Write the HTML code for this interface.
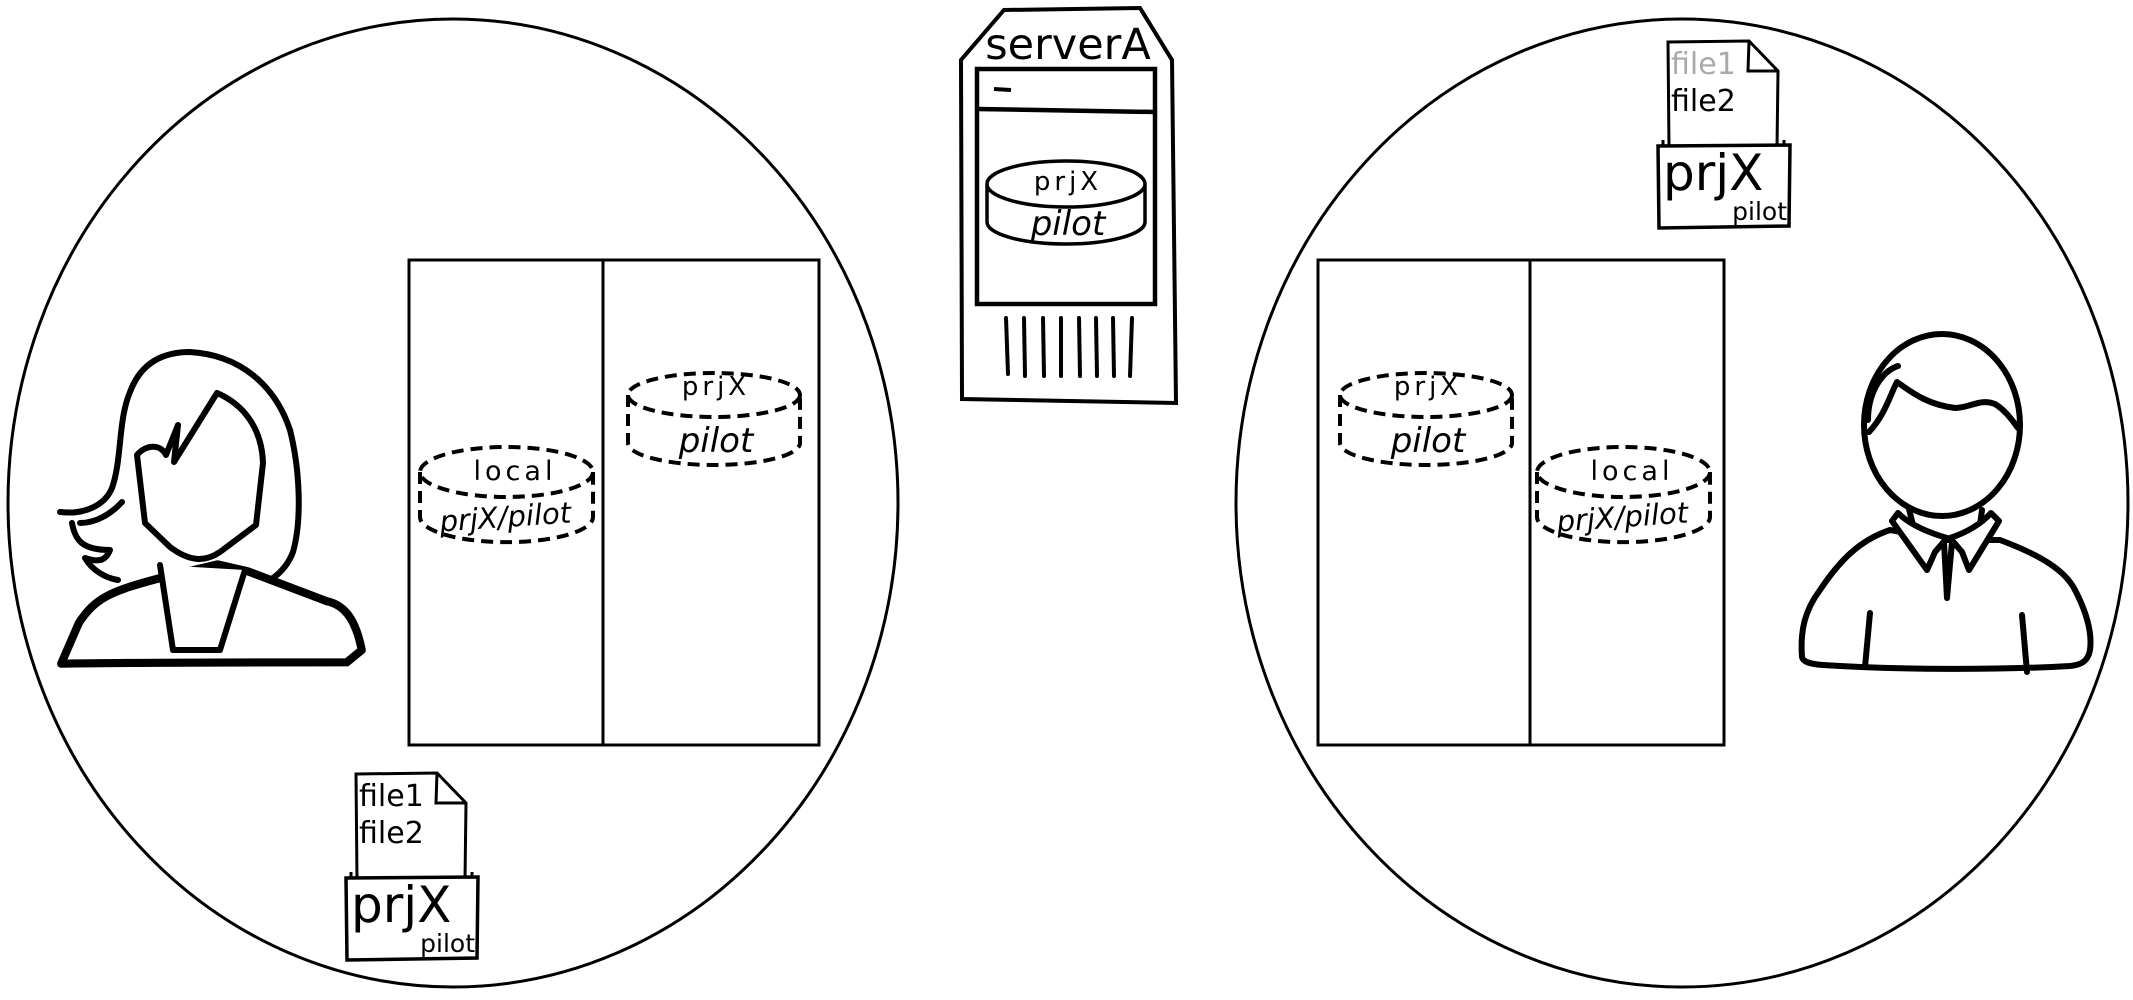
<!DOCTYPE html>
<html><head><meta charset="utf-8"><style>
html,body{margin:0;padding:0;background:#fff;}
svg{display:block;}
text{font-family:"DejaVu Sans","Liberation Sans",sans-serif;fill:#000;}
</style></head><body>
<svg width="2133" height="1000" viewBox="0 0 2133 1000" xmlns="http://www.w3.org/2000/svg">
<defs>
<g id="cylLocal">
  <path d="M0,25 L0,70 A86,25 0 0 0 173,70 L173,25" fill="none" stroke="#000" stroke-width="4" stroke-dasharray="12,7"/>
  <ellipse cx="86.5" cy="25" rx="86.5" ry="25" fill="none" stroke="#000" stroke-width="4" stroke-dasharray="12,7"/>
  <text x="95" y="33" font-size="27" text-anchor="middle" letter-spacing="4">local</text>
  <text x="86" y="80" font-size="29" text-anchor="middle" transform="rotate(-4 86 80)" font-style="italic">prjX/pilot</text>
</g>
<g id="cylPrj">
  <path d="M0,22 L0,70 A86,22 0 0 0 172,70 L172,22" fill="none" stroke="#000" stroke-width="4" stroke-dasharray="12,7"/>
  <ellipse cx="86" cy="22" rx="86" ry="22" fill="none" stroke="#000" stroke-width="4" stroke-dasharray="12,7"/>
  <text x="88" y="22" font-size="26" text-anchor="middle" letter-spacing="4">prjX</text>
  <text x="88" y="79" font-size="34" text-anchor="middle" font-style="italic">pilot</text>
</g>
<g id="folder">
  <path d="M351,872 L351,893 M472,872 L472,893" stroke="#000" stroke-width="3" fill="none"/>
  <path d="M356,774 L437,773 L466,803 L465,880 L357,880 Z" fill="#fff" stroke="#000" stroke-width="3"/>
  <path d="M437,773 L436,803 L466,803" fill="none" stroke="#000" stroke-width="3"/>
  <path d="M346,878 L478,877 L477,958 L347,960 Z" fill="#fff" stroke="#000" stroke-width="3.5"/>
</g>
</defs>

<ellipse cx="453" cy="503" rx="445" ry="484" fill="none" stroke="#000" stroke-width="3"/>
<ellipse cx="1682" cy="503" rx="446" ry="484" fill="none" stroke="#000" stroke-width="3"/>

<!-- left panel -->
<rect x="409" y="260" width="410" height="485" fill="none" stroke="#000" stroke-width="3"/>
<line x1="603" y1="260" x2="603" y2="745" stroke="#000" stroke-width="3"/>
<use href="#cylLocal" x="420" y="447"/>
<use href="#cylPrj" x="628" y="373"/>

<!-- right panel -->
<rect x="1318" y="260" width="406" height="485" fill="none" stroke="#000" stroke-width="3"/>
<line x1="1530" y1="260" x2="1530" y2="745" stroke="#000" stroke-width="3"/>
<use href="#cylPrj" x="1340" y="373"/>
<use href="#cylLocal" x="1537" y="447"/>

<!-- server -->
<path d="M1004,10 L1140,8 L1172,60 L1176,403 L962,399 L961,60 Z" fill="#fff" stroke="#000" stroke-width="4"/>
<text x="1068" y="59" font-size="43" text-anchor="middle">serverA</text>
<rect x="977" y="69" width="178" height="235" fill="none" stroke="#000" stroke-width="4.5"/>
<line x1="977" y1="109" x2="1155" y2="112" stroke="#000" stroke-width="4.5"/>
<line x1="994" y1="89" x2="1011" y2="90" stroke="#000" stroke-width="4"/>
<path d="M987,185 L987,222 A79,22 0 0 0 1145,222 L1145,185" fill="#fff" stroke="#000" stroke-width="3.5"/>
<ellipse cx="1066" cy="184" rx="79" ry="23" fill="#fff" stroke="#000" stroke-width="3.5"/>
<text x="1068" y="190" font-size="26" text-anchor="middle" letter-spacing="4">prjX</text>
<text x="1068" y="235" font-size="34" text-anchor="middle" font-style="italic">pilot</text>
<g stroke="#000" stroke-width="4" stroke-linecap="round">
<line x1="1006" y1="318" x2="1008" y2="374"/><line x1="1024" y1="318" x2="1025" y2="376"/>
<line x1="1043" y1="318" x2="1044" y2="376"/><line x1="1061" y1="318" x2="1061" y2="376"/>
<line x1="1079" y1="318" x2="1080" y2="376"/><line x1="1096" y1="318" x2="1097" y2="376"/>
<line x1="1113" y1="318" x2="1114" y2="376"/><line x1="1132" y1="318" x2="1130" y2="376"/>
</g>

<!-- folders -->
<use href="#folder"/>
<text x="359" y="806" font-size="30">file1</text>
<text x="359" y="843" font-size="30">file2</text>
<text x="351" y="922" font-size="50">prjX</text>
<text x="475" y="952" font-size="25" text-anchor="end">pilot</text>

<use href="#folder" x="1312" y="-732"/>
<text x="1671" y="74" font-size="30" fill="#aaa" style="fill:#aaa">file1</text>
<text x="1671" y="111" font-size="30">file2</text>
<text x="1663" y="190" font-size="50">prjX</text>
<text x="1787" y="220" font-size="25" text-anchor="end">pilot</text>

<!-- woman -->
<g fill="#fff" stroke="#000" stroke-width="6" stroke-linejoin="round" stroke-linecap="round">
<path d="M60,512 C85,515 105,505 112,488 C122,460 118,420 130,392 C140,365 160,352 190,352 C240,355 275,385 290,430 C300,470 302,520 293,552 C288,565 280,573 273,578"/>
<path d="M80,523 C95,523 110,515 122,502" fill="none"/>
<path d="M72,523 C75,540 82,550 110,550 C106,560 100,563 85,558 C92,570 105,578 118,580" fill="none"/>
<path d="M45,488 L58,458 C70,440 80,435 118,425 L160,415 L182,420 L240,442 C255,445 262,458 266,478 L255,487 C180,487 110,487 45,488 Z" transform="translate(0,0) scale(1.36) translate(0,0)"/>
<path d="M160,565 L173,650 L220,650 L245,570"/>
<path d="M137,455 C145,445 160,443 166,455 L178,425 L174,462 L217,393 C245,405 262,430 263,463 L256,525 L220,552 C205,562 190,562 170,547 L145,523 Z"/>
</g>

<!-- man -->
<g fill="#fff" stroke="#000" stroke-width="6" stroke-linejoin="round" stroke-linecap="round">
<path d="M1802,657 C1800,630 1805,610 1820,590 C1840,560 1860,540 1890,530 L1947,540 L2000,540 C2040,555 2065,570 2075,590 C2088,615 2092,635 2090,650 C2088,662 2080,665 2070,666 C2000,670 1900,670 1823,665 C1810,664 1803,662 1802,657 Z"/>
<path d="M1908,505 L1913,525 M1982,510 L1980,525" fill="none"/>
<ellipse cx="1942" cy="425" rx="78" ry="91"/>
<path d="M1869,432 C1885,415 1890,395 1897,382 C1915,395 1930,405 1955,408 C1970,408 1980,398 1995,404 C2005,410 2012,420 2018,428" fill="none"/>
<path d="M1868,420 C1868,395 1880,372 1898,366" fill="none"/>
<path d="M1892,521 L1898,513 C1910,525 1930,533 1947,538 L1935,552 L1927,570 Z"/>
<path d="M1999,521 L1991,513 C1980,525 1965,533 1950,538 L1962,552 L1969,570 Z"/>
<path d="M1944,542 L1947,598 L1952,542" fill="none"/>
<path d="M1870,613 L1865,667 M2022,615 L2027,672" fill="none"/>
</g>
</svg>
</body></html>
